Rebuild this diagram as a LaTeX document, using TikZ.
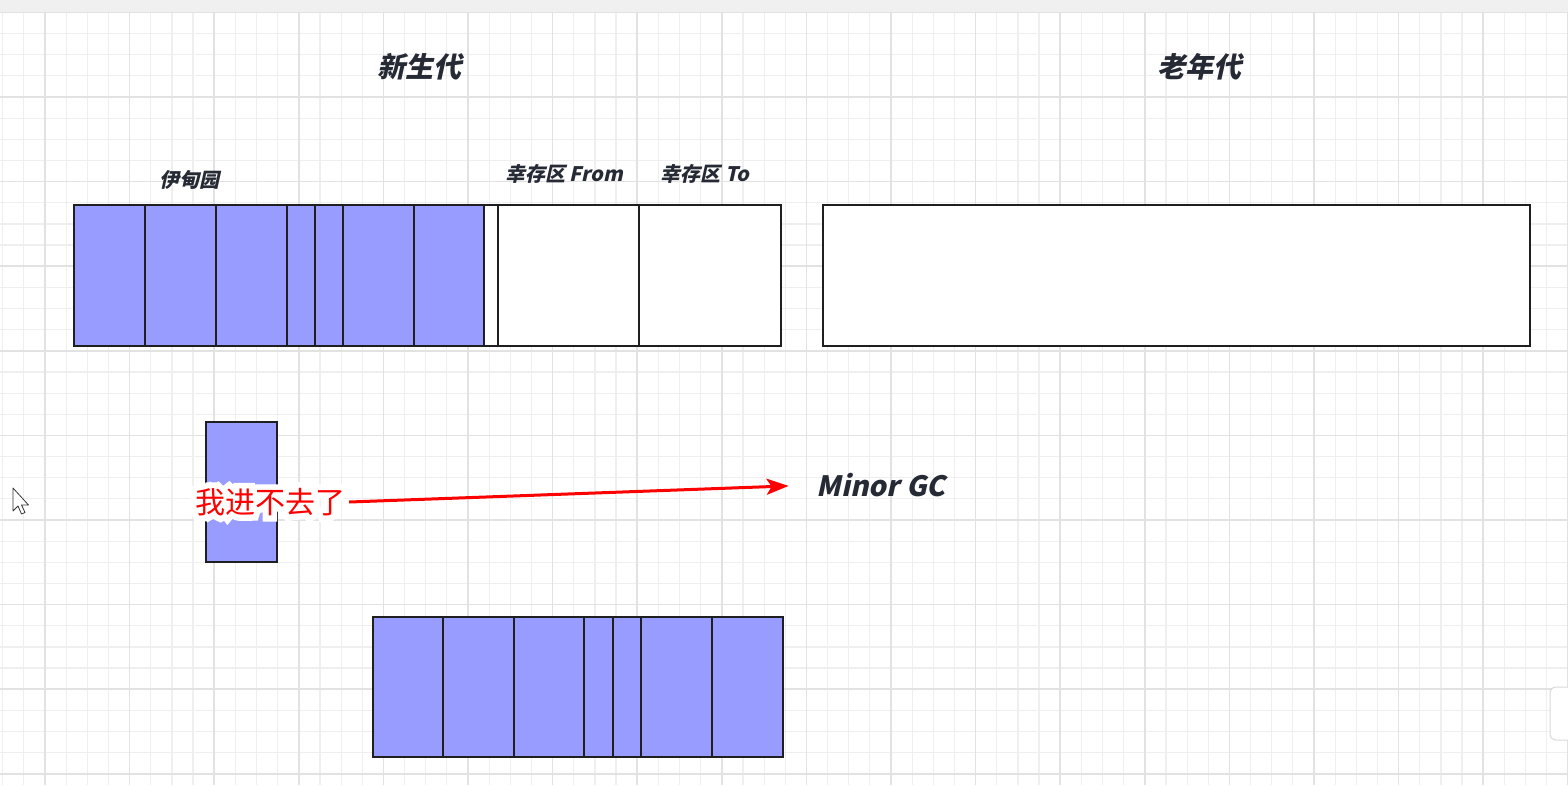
\documentclass[tikz,border=0pt]{standalone}
\usepackage{fontspec}
\usepackage{xcolor}
\usepackage{tikz}
\newfontfamily\cjk[BoldFeatures={FakeSlant=0.22}]{Noto Sans CJK SC}
\newfontfamily\cjkhalo[FakeBold=40]{Noto Sans CJK SC}
\usetikzlibrary{arrows.meta}
\definecolor{edenblue}{RGB}{153,156,255}
\definecolor{gridminor}{RGB}{239,239,239}
\definecolor{gridmajor}{RGB}{226,226,226}
\definecolor{labelgray}{RGB}{38,42,52}

\begin{document}
\begin{tikzpicture}[x=1pt,y=-1pt,
        block/.style={draw=black!88, line width=2.4pt},
        full/.style={block, fill=edenblue},
        title/.style={font=\cjk\bfseries\fontsize{28}{34}\selectfont, text=labelgray},
        area/.style={font=\cjk\bfseries\fontsize{20}{24}\selectfont, text=labelgray},
        refuse/.style={font=\cjk\fontsize{30}{36}\selectfont, text=red, inner sep=4pt},
        halo/.style={refuse, font=\cjkhalo\fontsize{30}{36}\selectfont, text=white}]
        \useasboundingbox (0,0) rectangle (1568,785);
        \fill [white] (0,0) rectangle (1568,785);
        \fill [black!6] (0,0) rectangle (1568,12.4);
        % grid
        \foreach \k in {0,...,74}
            \draw [gridminor, line width=1.2pt] ({2.7+21.15*\k},12.4) -- ({2.7+21.15*\k},785);
        \foreach \k in {0,...,36}
            \draw [gridminor, line width=1.2pt] (0,{12.4+21.15*\k}) -- (1568,{12.4+21.15*\k});
        \foreach \k in {0,...,18}
            \draw [gridmajor, line width=1.6pt] ({45+84.6*\k},12.4) -- ({45+84.6*\k},785);
        \foreach \k in {0,...,9}
            \draw [gridmajor, line width=1.6pt] (0,{12.4+84.6*\k}) -- (1568,{12.4+84.6*\k});
        % young and old generation
        \draw [full] (74,205) rectangle (145,346);
        \draw [full] (145,205) rectangle (216,346);
        \draw [full] (216,205) rectangle (287,346);
        \draw [full] (287,205) rectangle (315,346);
        \draw [full] (315,205) rectangle (343,346);
        \draw [full] (343,205) rectangle (414,346);
        \draw [full] (414,205) rectangle (484,346);
        \draw [block, fill=white] (484,205) rectangle (498,346);
        \draw [block, fill=white] (498,205) rectangle (639,346);
        \draw [block, fill=white] (639,205) rectangle (781,346);
        \draw [block, fill=white] (823,205) rectangle (1530,346);
        % new object
        \draw [full] (206,422) rectangle (277,562);
        % after gc
        \draw [full] (373,617) rectangle (443,757);
        \draw [full] (443,617) rectangle (514,757);
        \draw [full] (514,617) rectangle (584,757);
        \draw [full] (584,617) rectangle (613,757);
        \draw [full] (613,617) rectangle (641,757);
        \draw [full] (641,617) rectangle (712,757);
        \draw [full] (712,617) rectangle (783,757);
        \node [title] (young) at (419,67) {新生代};
        \node [title] (old) at (1199,67) {老年代};
        \node [area] (eden) at (189,180) {伊甸园};
        \node [area] (from) at (564,174) {幸存区 From};
        \node [area] (to) at (705,174) {幸存区 To};
        \node [title, inner sep=3pt] (gc) at (881,485) {Minor GC};
        \node [halo] (halo) at (270,502) {我进不去了};
        \node [refuse] (full) at (270,502) {我进不去了};
        \draw [red, line width=3pt, -{Stealth[length=22pt,width=16pt,inset=5pt]}, shorten >=25pt] (full.east) -- (gc.west);
        % screen bits
        \draw [black!80, fill=white, line width=0.8pt, line join=round] (13,488) -- (13,511) -- (18,506) -- (21.5,514) -- (25,512.5) -- (21.5,505) -- (28.5,505) -- cycle;
        \draw [black!15, fill=white, rounded corners=6pt, line width=1pt] (1550,687) rectangle (1580,740);
    \end{tikzpicture}
\end{document}
